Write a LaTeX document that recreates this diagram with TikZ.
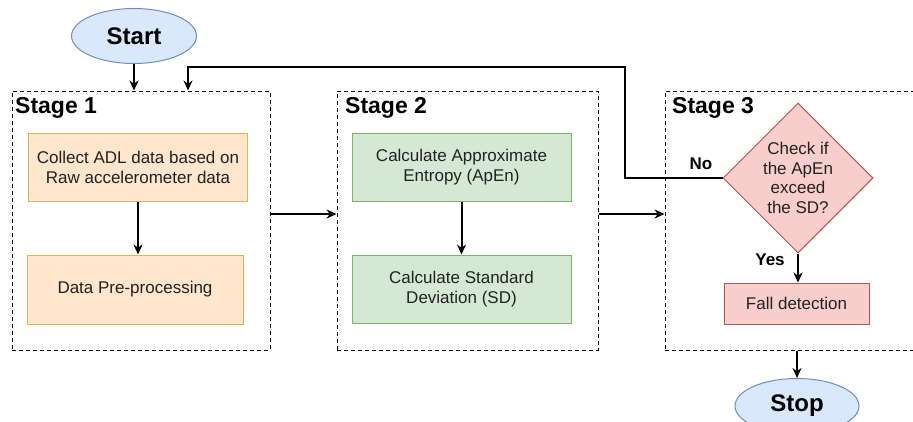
\documentclass[tikz,border=0pt]{standalone}
\usepackage{fontspec}
\setmainfont{Liberation Sans}
\usetikzlibrary{arrows.meta,shapes.geometric}
\definecolor{blueF}{HTML}{DAE8FC}
\definecolor{blueD}{HTML}{6C8EBF}
\definecolor{orF}{HTML}{FFE6CC}
\definecolor{orD}{HTML}{D6B656}
\definecolor{grF}{HTML}{D5E8D4}
\definecolor{grD}{HTML}{82B366}
\definecolor{rdF}{HTML}{F8CECC}
\definecolor{rdD}{HTML}{B85450}
\definecolor{txt}{HTML}{222222}
\tikzset{
  term/.style={ellipse, draw=blueD, fill=blueF, line width=1pt, inner sep=0pt,
    minimum width=125pt, minimum height=55pt, font=\fontsize{24}{28}\selectfont\bfseries},
  stagebox/.style={draw=black, dash pattern=on 4pt off 3pt, line width=1pt, inner sep=0pt},
  stagelabel/.style={anchor=base west, inner sep=0pt, font=\fontsize{23}{27}\selectfont\bfseries},
  proc/.style={draw, line width=1pt, inner sep=0pt, align=center, text=txt,
    font=\fontsize{17}{20}\selectfont},
  orbox/.style={proc, draw=orD, fill=orF},
  grbox/.style={proc, draw=grD, fill=grF},
  rdbox/.style={proc, draw=rdD, fill=rdF},
  decis/.style={diamond, draw=rdD, fill=rdF, line width=1pt, inner sep=0pt, aspect=1, text=txt,
    minimum width=150pt, minimum height=150pt, align=center, font=\fontsize{17}{19.5}\selectfont},
  lbl/.style={inner sep=0pt, font=\fontsize{17}{20}\selectfont\bfseries},
  arr/.style={-{Stealth[length=10pt,width=9pt]}, line width=2pt, black}
}
\begin{document}
\begin{tikzpicture}[x=1pt,y=-1pt]
\useasboundingbox (0,0) rectangle (913,421);
\fill[white] (0,0) rectangle (913,421);

% stage frames
\node[stagebox, minimum width=258pt, minimum height=259pt] (s1) at (141,220.5) {};
\node[stagebox, minimum width=261pt, minimum height=259pt] (s2) at (467.5,220.5) {};
\node[stagebox, minimum width=265pt, minimum height=259pt] (s3) at (797.5,220.5) {};
\node[stagelabel] (l1) at (15,113) {Stage 1};
\node[stagelabel] (l2) at (345,113) {Stage 2};
\node[stagelabel] (l3) at (672,113) {Stage 3};

% terminals
\node[term] (start) at (134,36) {Start};
\node[term, minimum width=124pt] (stop) at (797,406) {Stop};

% stage 1
\node[orbox, minimum width=219pt, minimum height=68pt] (collect) at (138,167)
  {Collect ADL data based on\\Raw accelerometer data};
\node[orbox, minimum width=216pt, minimum height=69pt] (pre) at (135,289.5)
  {Data Pre-processing};

% stage 2
\node[grbox, minimum width=219pt, minimum height=68pt] (apen) at (461.5,167)
  {Calculate Approximate\\Entropy (ApEn)};
\node[grbox, minimum width=219pt, minimum height=68pt] (sd) at (461.5,289)
  {Calculate Standard\\Deviation (SD)};

% stage 3
\node[decis] (dia) at (798,178) {Check if\\the ApEn\\exceed\\the SD?};
\node[rdbox, minimum width=145pt, minimum height=41pt] (fall) at (796.5,303.5)
  {Fall detection};

% labels
\node[lbl] (no) at (701,164) {No};
\node[lbl] (yes) at (770,260) {Yes};

% connectors
\coordinate (loopA) at (625,67);
\coordinate (loopB) at (188,67);
\draw[arr] (start) -- (start |- s1.north);
\draw[arr] (dia.west) -| (loopA) -- (loopB) -- (loopB |- s1.north);
\draw[arr] (collect) -- (collect |- pre.north);
\draw[arr] (apen) -- (apen |- sd.north);
\draw[arr] ([yshift=6.5pt]s1.east) -- ([yshift=6.5pt]s2.west);
\draw[arr] ([yshift=6.5pt]s2.east) -- ([yshift=6.5pt]s3.west);
\draw[arr] (dia.south) -- (dia.south |- fall.north);
\draw[arr] (stop.north |- s3.south) -- (stop.north);
\end{tikzpicture}
\end{document}
